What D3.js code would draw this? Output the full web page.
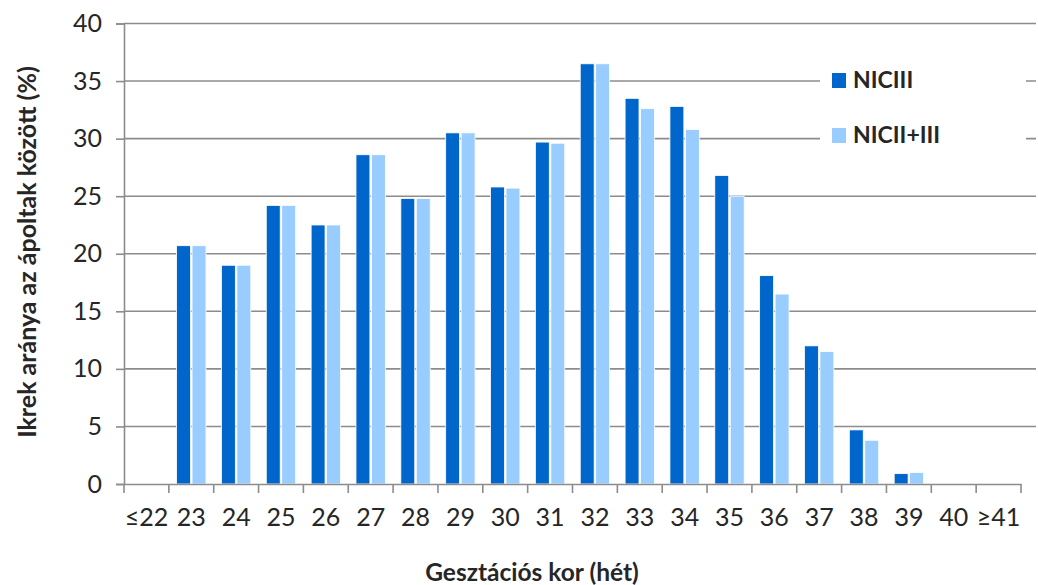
<!DOCTYPE html>
<html>
<head>
<meta charset="utf-8">
<script src="https://cdn.jsdelivr.net/npm/d3@7/dist/d3.min.js"></script>
<style>
  body { margin: 0; background: #fff; }
  text { font-family: Lato, "Open Sans", sans-serif; fill: #262626; }
</style>
</head>
<body>
<div id="chart"></div>
<script>
// gestational week categories
const weeks = ['≤22', '23', '24', '25', '26', '27', '28', '29', '30', '31',
               '32', '33', '34', '35', '36', '37', '38', '39', '40', '≥41'];
// share of twins among treated (%)
const nicIII = [0, 20.7, 19.0, 24.2, 22.5, 28.6, 24.8, 30.5, 25.8, 29.7,
                36.5, 33.5, 32.8, 26.8, 18.1, 12.0, 4.7, 0.9, 0, 0];
const nicIIandIII = [0, 20.7, 19.0, 24.2, 22.5, 28.6, 24.8, 30.5, 25.7, 29.6,
                     36.5, 32.6, 30.8, 25.0, 16.5, 11.5, 3.8, 1.0, 0, 0];
const seriesNames = ['NICIII', 'NICII+III'];
const colors = ['#0066CC', '#99CCFF'];
const yTicks = [0, 5, 10, 15, 20, 25, 30, 35, 40];

const width = 1038, height = 585;
const svg = d3.select('#chart').append('svg')
  .attr('width', width).attr('height', height);

const plotLeft = 124, plotRight = 1021, plotTop = 23.5, plotBottom = 484;

const x = d3.scaleBand().domain(weeks).range([plotLeft, plotRight]);
const xs = d3.scaleBand().domain(seriesNames).range([0, x.bandwidth()]).paddingInner(0.1).paddingOuter(0.5);
const y = d3.scaleLinear().domain([0, 40]).range([plotBottom, plotTop]);

// gridlines
svg.append('g').selectAll('line')
  .data(yTicks.slice(1))
  .enter().append('line')
  .attr('x1', plotLeft).attr('x2', 1036)
  .attr('y1', d => y(d)).attr('y2', d => y(d))
  .attr('stroke', '#8c8c8c').attr('stroke-width', 1.6);

// y axis
const yAxis = svg.append('g')
  .attr('transform', `translate(${plotLeft},0)`)
  .call(d3.axisLeft(y).tickValues(yTicks).tickSize(8).tickPadding(14));
yAxis.select('.domain').attr('stroke', '#8c8c8c').attr('stroke-width', 1.6);
yAxis.selectAll('.tick line').attr('stroke', '#8c8c8c').attr('stroke-width', 1.6);
yAxis.selectAll('text').style('font-size', '25px').attr('fill', '#262626');

// bars
const rows = weeks.map((w, i) => ({ week: w, vals: [nicIII[i], nicIIandIII[i]] }));
const groups = svg.append('g').selectAll('g')
  .data(rows).enter().append('g')
  .attr('transform', d => `translate(${x(d.week)},0)`);
groups.selectAll('rect')
  .data(d => d.vals.map((v, k) => ({ name: seriesNames[k], v, k })))
  .enter().append('rect')
  .filter(d => d.v > 0)
  .attr('x', d => xs(d.name))
  .attr('width', xs.bandwidth())
  .attr('y', d => y(d.v))
  .attr('height', d => y(0) - y(d.v))
  .attr('fill', d => colors[d.k])
  .attr('stroke', '#fff').attr('stroke-width', 0.8);

// x axis
const xAxis = svg.append('g')
  .attr('transform', `translate(0,${plotBottom})`)
  .call(d3.axisBottom(x).tickSize(0).tickPadding(24));
xAxis.select('.domain').attr('stroke', '#8c8c8c').attr('stroke-width', 1.6);
xAxis.selectAll('text').style('font-size', '25px').attr('fill', '#262626');
// tick marks between categories
svg.append('g').selectAll('line')
  .data(d3.range(weeks.length + 1))
  .enter().append('line')
  .attr('x1', i => plotLeft + i * x.step()).attr('x2', i => plotLeft + i * x.step())
  .attr('y1', plotBottom).attr('y2', plotBottom + 9)
  .attr('stroke', '#8c8c8c').attr('stroke-width', 1.6);

// axis titles
svg.append('text')
  .attr('x', 532).attr('y', 581)
  .attr('text-anchor', 'middle')
  .style('font-size', '24.5px').style('font-weight', 'bold')
  .text('Gesztációs kor (hét)');
svg.append('text')
  .attr('transform', 'translate(36,252) rotate(-90)')
  .attr('text-anchor', 'middle')
  .style('font-size', '25px').style('font-weight', 'bold')
  .text('Ikrek aránya az ápoltak között (%)');

// legend
const legend = svg.append('g');
legend.append('rect')
  .attr('x', 820).attr('y', 58).attr('width', 206).attr('height', 100)
  .attr('fill', '#fff');
seriesNames.forEach((name, k) => {
  const ly = 80 + k * 55;
  legend.append('rect')
    .attr('x', 832).attr('y', ly - 7).attr('width', 14).attr('height', 15)
    .attr('fill', colors[k]);
  legend.append('text')
    .attr('x', 853).attr('y', ly + 8)
    .style('font-size', '23px').style('font-weight', 'bold')
    .text(name);
});
</script>
</body>
</html>
